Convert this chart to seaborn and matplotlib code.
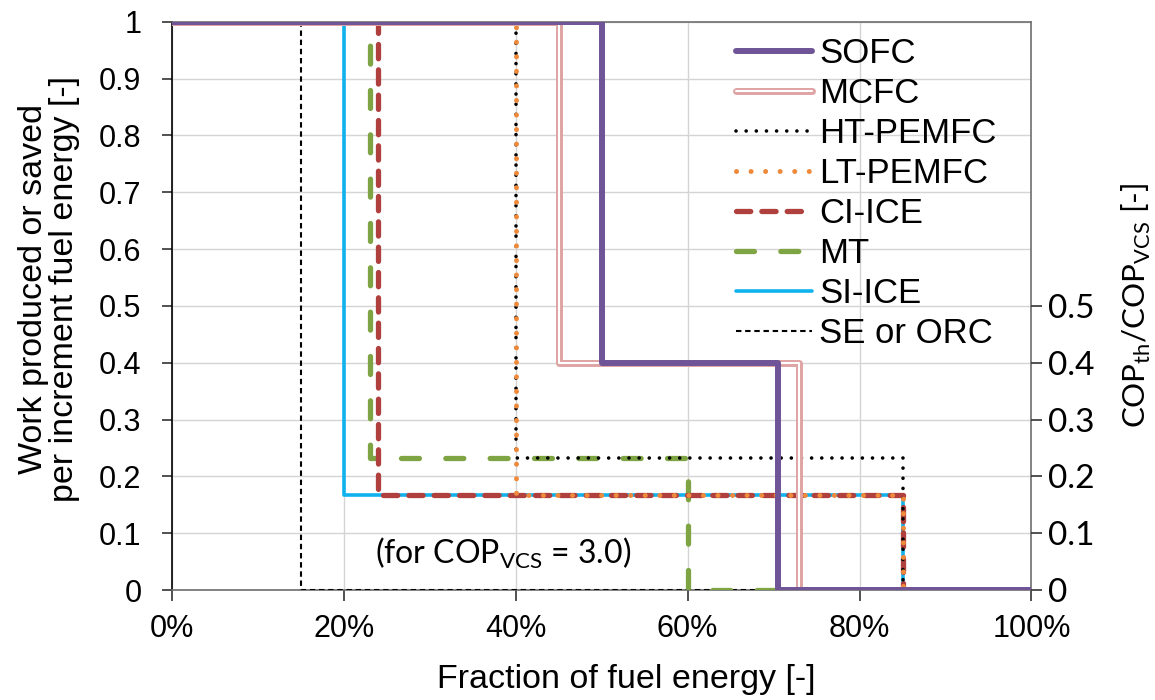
import numpy as np
import pandas as pd
import matplotlib
matplotlib.use("Agg")
import matplotlib.pyplot as plt
import matplotlib.patheffects as pe
import seaborn as sns

# Step curves: breakpoints on the fuel-energy axis and the level held until the next breakpoint
series = ["SOFC", "MCFC", "HT-PEMFC", "LT-PEMFC", "CI-ICE", "MT", "SI-ICE", "SE or ORC"]
sofc_x = [0.0, 0.50, 0.705, 1.0]
sofc_y = [1.0, 0.40, 0.0, 0.0]
mcfc_x = [0.0, 0.45, 0.73, 1.0]
mcfc_y = [1.0, 0.40, 0.0, 0.0]
htpem_x = [0.0, 0.40, 0.85, 1.0]
htpem_y = [1.0, 0.233, 0.0, 0.0]
ltpem_x = [0.0, 0.40, 0.85, 1.0]
ltpem_y = [1.0, 0.167, 0.0, 0.0]
ciice_x = [0.0, 0.24, 0.85, 1.0]
ciice_y = [1.0, 0.167, 0.0, 0.0]
mt_x = [0.0, 0.23, 0.60, 1.0]
mt_y = [1.0, 0.233, 0.0, 0.0]
siice_x = [0.0, 0.20, 0.85, 1.0]
siice_y = [1.0, 0.167, 0.0, 0.0]
se_x = [0.0, 0.15, 1.0]
se_y = [1.0, 0.0, 0.0]

x_ticks = [0.0, 0.2, 0.4, 0.6, 0.8, 1.0]
x_ticklabels = ["0%", "20%", "40%", "60%", "80%", "100%"]
y_ticks = [0.0, 0.1, 0.2, 0.3, 0.4, 0.5, 0.6, 0.7, 0.8, 0.9, 1.0]
y_ticklabels = ["0", "0.1", "0.2", "0.3", "0.4", "0.5", "0.6", "0.7", "0.8", "0.9", "1"]
cop_ticks = [0.0, 0.1, 0.2, 0.3, 0.4, 0.5]
cop_ticklabels = ["0", "0.1", "0.2", "0.3", "0.4", "0.5"]

curves = {
    "SOFC": (sofc_x, sofc_y),
    "MCFC": (mcfc_x, mcfc_y),
    "HT-PEMFC": (htpem_x, htpem_y),
    "LT-PEMFC": (ltpem_x, ltpem_y),
    "CI-ICE": (ciice_x, ciice_y),
    "MT": (mt_x, mt_y),
    "SI-ICE": (siice_x, siice_y),
    "SE or ORC": (se_x, se_y),
}
df = pd.concat(
    [pd.DataFrame({"series": name, "x": xs, "y": ys}) for name, (xs, ys) in curves.items()],
    ignore_index=True,
)

sns.set_theme(style="whitegrid")
plt.rcParams["font.family"] = ["Liberation Sans", "DejaVu Sans"]
plt.rcParams.update({"text.color": "black", "axes.labelcolor": "black",
                     "xtick.color": "black", "ytick.color": "black"})
calibri_like = ["Lato", "DejaVu Sans"]

styles = {
    "SOFC": dict(color="#6F5597", lw=4.3, ls="-", zorder=10),
    "MCFC": dict(color="white", lw=1.5, ls="-", zorder=9,
                 path_effects=[pe.Stroke(linewidth=5.0, foreground="#DFA3A3"), pe.Normal()]),
    "HT-PEMFC": dict(color="black", lw=2.6, ls=(0, (0.01, 2.8)), dash_capstyle="round", zorder=8),
    "LT-PEMFC": dict(color="#EE8A3C", lw=3.6, ls=(0, (0.01, 2.9)), dash_capstyle="round", zorder=8.5),
    "CI-ICE": dict(color="#B0403E", lw=3.8, ls=(0, (2.7, 2.1)), dash_capstyle="round", zorder=7),
    "MT": dict(color="#7EA444", lw=3.8, ls=(0, (3.4, 5.0)), dash_capstyle="round", zorder=6),
    "SI-ICE": dict(color="#10B2EE", lw=2.6, ls="-", zorder=5),
    "SE or ORC": dict(color="black", lw=1.5, ls=(0, (2.6, 1.8)), zorder=4),
}

fig = plt.figure(figsize=(11.55, 7.0), dpi=100)
ax = fig.add_axes([0.149, 0.157, 0.744, 0.812])

for name in series:
    sns.lineplot(data=df[df["series"] == name], x="x", y="y", ax=ax,
                 estimator=None, sort=False, drawstyle="steps-post",
                 label=name, **styles[name])

ax.set_xlim(0, 1)
ax.set_ylim(0, 1)
ax.set_xticks(x_ticks)
ax.set_xticklabels(x_ticklabels, fontsize=22)
ax.set_yticks(y_ticks)
ax.set_yticklabels(y_ticklabels, fontsize=22)
ax.set_axisbelow(True)
ax.grid(True, color="#D4D4D4", lw=1.0)
ax.tick_params(axis="x", direction="out", length=8, width=1.2, color="#333333",
               pad=9, bottom=True)
ax.tick_params(axis="y", direction="out", length=7, width=1.2, color="#333333",
               pad=15, left=True)
ax.spines["left"].set_color("black")
for side in ["bottom", "top", "right"]:
    ax.spines[side].set_color("#6E6E6E")
for sp in ax.spines.values():
    sp.set_linewidth(1.2)

ax.set_xlabel("Fraction of fuel energy [-]", fontsize=24.5)
ax.xaxis.set_label_coords(0.528, -0.157, transform=ax.transAxes)
ax.xaxis.label.set_va("center")
ax.set_ylabel("Work produced or saved\nper increment fuel energy [-]", fontsize=24.5,
              linespacing=1.0)
ax.yaxis.set_label_coords(-0.107, 0.53, transform=ax.transAxes)

ax2 = ax.twinx()
ax2.set_ylim(0, 1)
ax2.set_yticks(cop_ticks)
ax2.set_yticklabels(cop_ticklabels, fontsize=24, family=calibri_like)
ax2.grid(False)
ax2.tick_params(axis="y", direction="out", length=8, width=1.2, color="#333333",
                pad=4, right=True)
for sp in ax2.spines.values():
    sp.set_visible(False)
ax2.set_ylabel(r"COP$_{\mathregular{th}}$/COP$_{\mathregular{VCS}}$ [-]", fontsize=22.5,
               family=calibri_like, labelpad=18)

ax.text(0.385, 0.065, r"(for COP$_{\mathregular{VCS}}$ = 3.0)", fontsize=23,
        family=calibri_like, ha="center", va="center")

leg = ax.legend(loc="upper left", bbox_to_anchor=(0.636, 1.003), frameon=False,
                fontsize=25, handlelength=2.2, handletextpad=0.2, labelspacing=0.2,
                borderpad=0.0)
leg.set_zorder(20)

fig.savefig("out.png", dpi=100)
